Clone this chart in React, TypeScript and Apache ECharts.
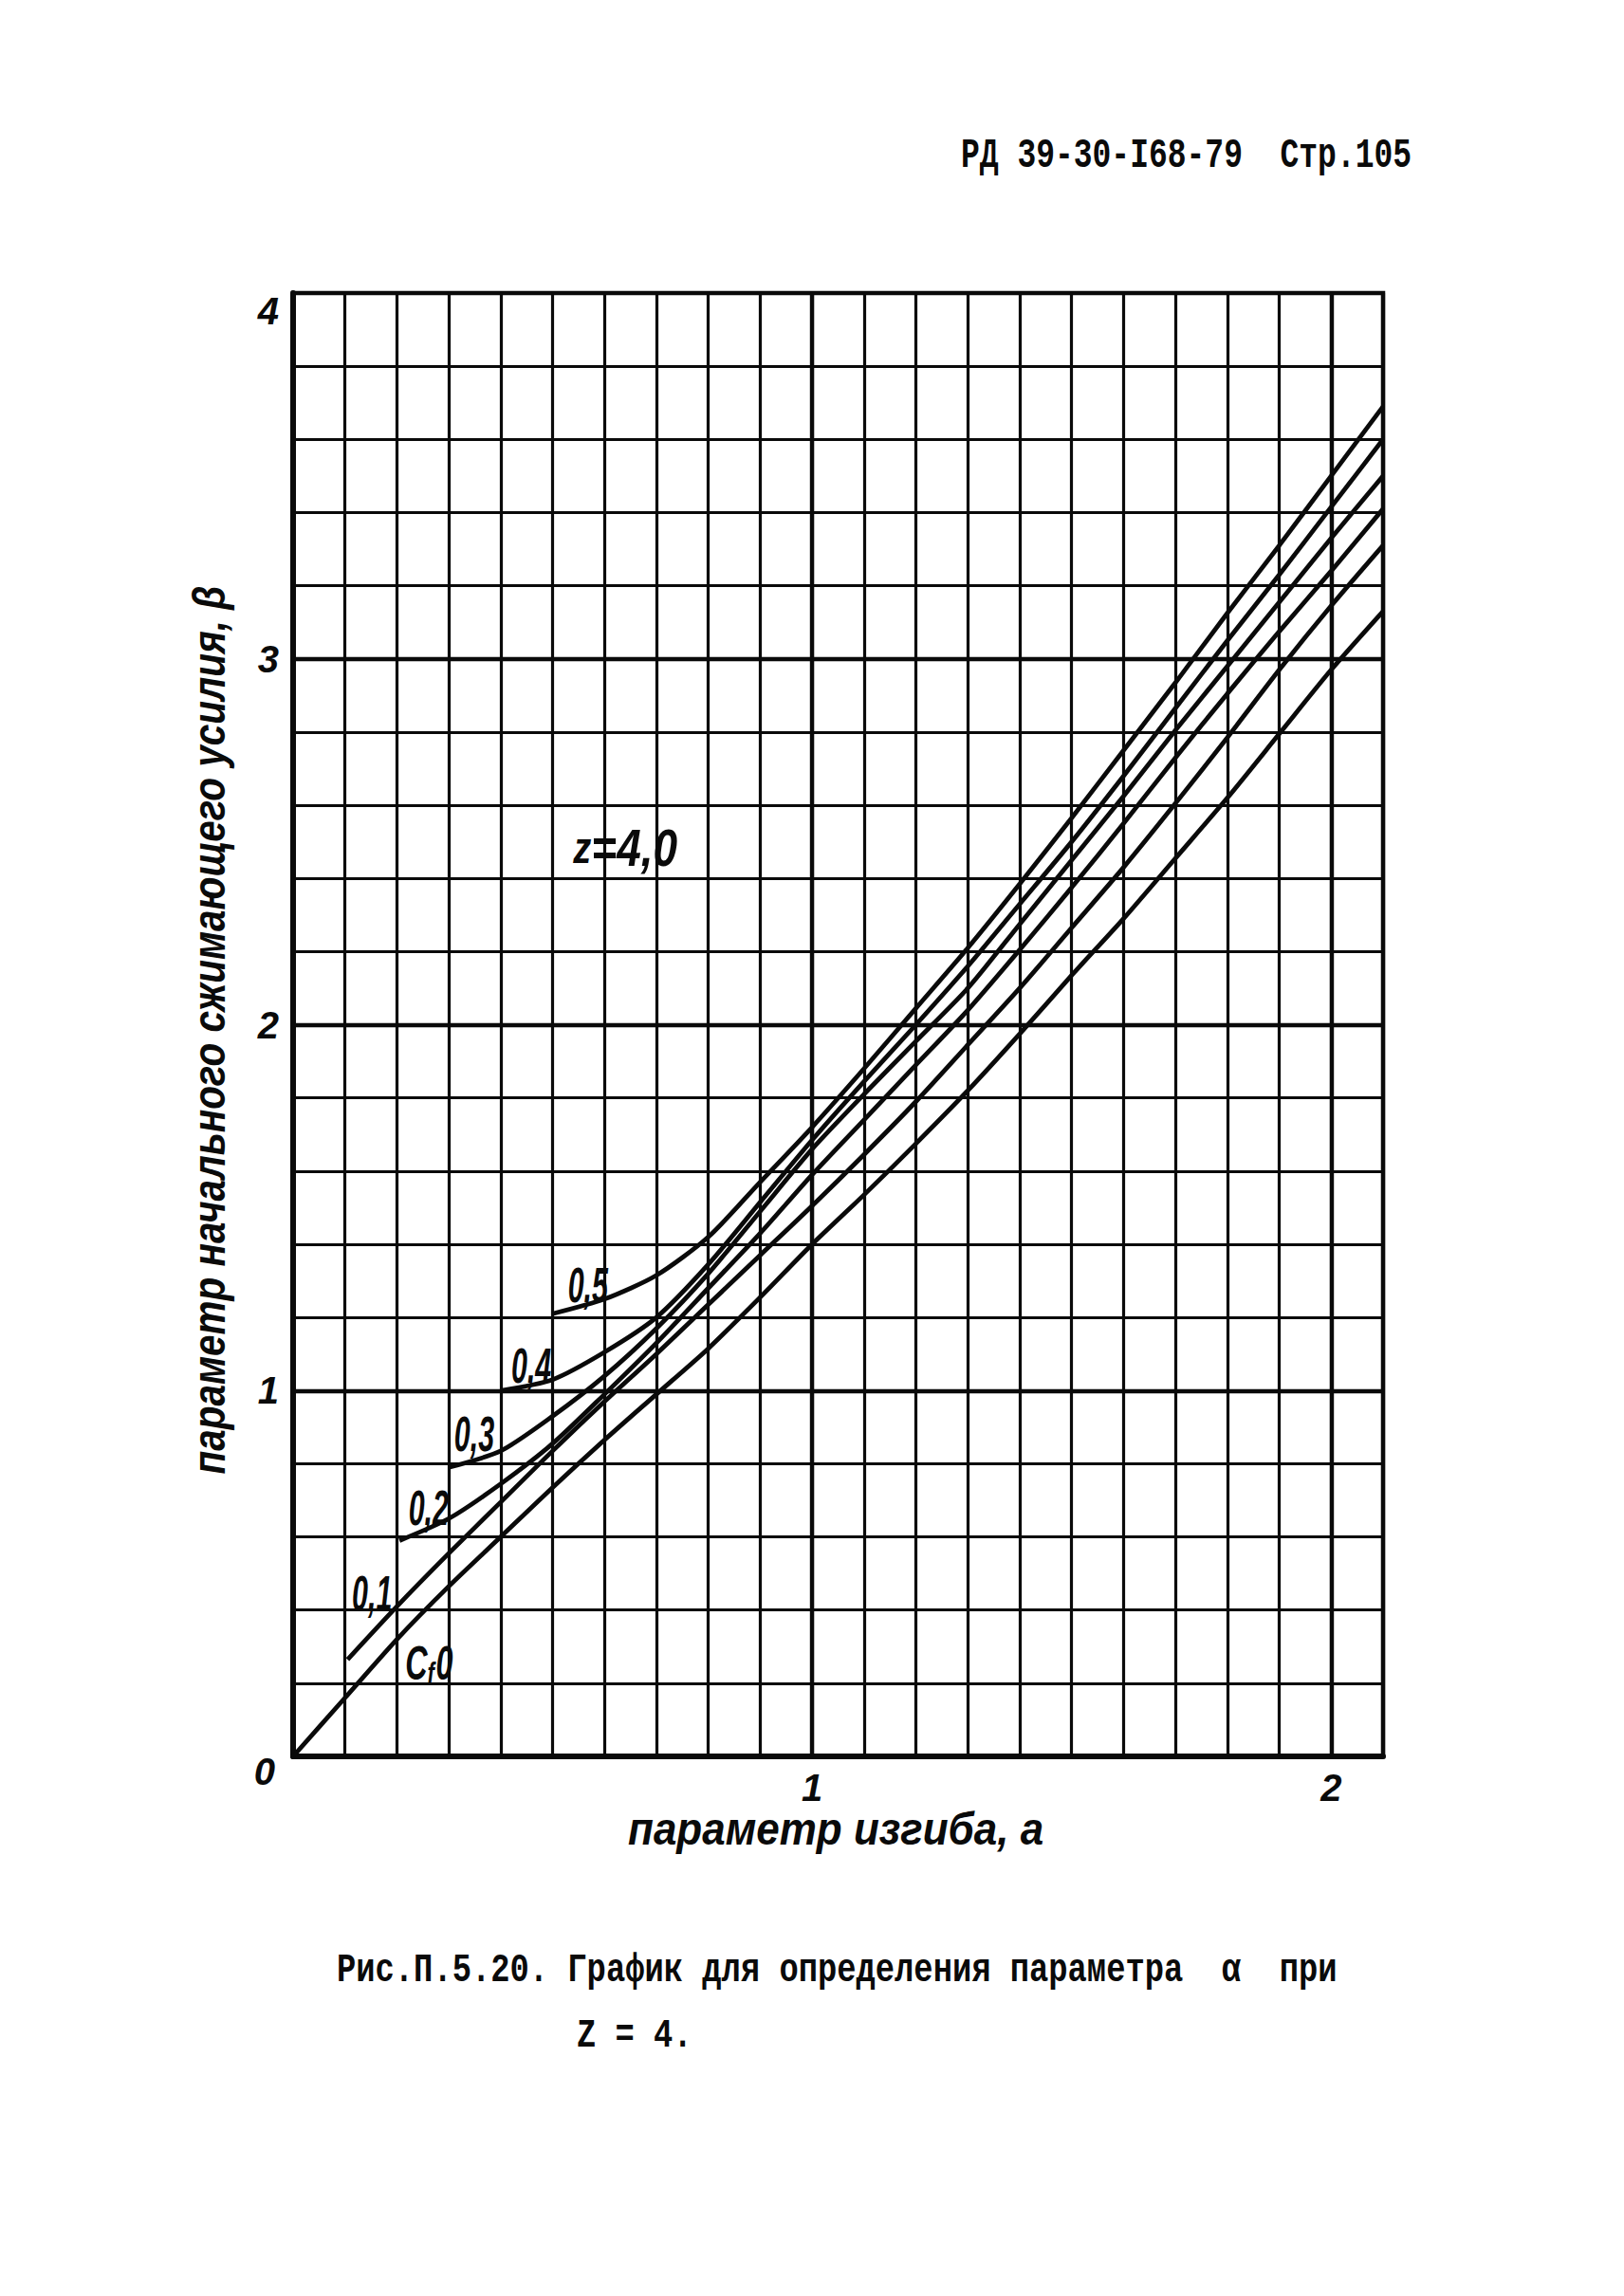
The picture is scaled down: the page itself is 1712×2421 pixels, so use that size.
import React, { useEffect, useRef } from "react";
import * as echarts from "echarts";

// ---- axis ranges / ticks ----
const X_MIN = 0;
const X_MAX = 2.1;
const X_STEP = 0.1;
const Y_MIN = 0;
const Y_MAX = 4;
const Y_STEP = 0.2;
const xTickLabels = [1, 2];
const yTickLabels = [0, 1, 2, 3, 4];
const majorX = [1, 2];
const majorY = [1, 2, 3];

// ---- curves (alpha, beta) for C_f = 0 ... 0.5 ----
const curveC00 = [
  [0, 0], [0.1, 0.16], [0.2, 0.32], [0.3, 0.465], [0.4, 0.6], [0.5, 0.735],
  [0.6, 0.865], [0.7, 0.99], [0.8, 1.115], [0.9, 1.255], [1.0, 1.4], [1.1, 1.535],
  [1.2, 1.675], [1.3, 1.82], [1.4, 1.975], [1.5, 2.135], [1.6, 2.29], [1.7, 2.455],
  [1.8, 2.62], [1.9, 2.795], [2.0, 2.97], [2.1, 3.13],
];
const curveC01 = [
  [0.105, 0.265], [0.2, 0.41], [0.3, 0.555], [0.4, 0.695], [0.5, 0.835], [0.6, 0.97],
  [0.7, 1.1], [0.8, 1.235], [0.9, 1.37], [1.0, 1.505], [1.1, 1.645], [1.2, 1.79],
  [1.3, 1.945], [1.4, 2.1], [1.5, 2.265], [1.6, 2.43], [1.7, 2.605], [1.8, 2.785],
  [1.9, 2.97], [2.0, 3.145], [2.1, 3.31],
];
const curveC02 = [
  [0.205, 0.59], [0.3, 0.65], [0.4, 0.745], [0.5, 0.855], [0.6, 0.99], [0.7, 1.13],
  [0.8, 1.28], [0.9, 1.43], [1.0, 1.59], [1.1, 1.74], [1.2, 1.89], [1.3, 2.04],
  [1.4, 2.205], [1.5, 2.375], [1.6, 2.55], [1.7, 2.73], [1.8, 2.905], [1.9, 3.075],
  [2.0, 3.24], [2.1, 3.41],
];
const curveC03 = [
  [0.3, 0.79], [0.4, 0.835], [0.5, 0.93], [0.6, 1.04], [0.7, 1.17], [0.8, 1.32],
  [0.9, 1.49], [1.0, 1.66], [1.1, 1.81], [1.2, 1.955], [1.3, 2.1], [1.4, 2.275],
  [1.5, 2.45], [1.6, 2.625], [1.7, 2.805], [1.8, 2.98], [1.9, 3.155], [2.0, 3.33],
  [2.1, 3.5],
];
const curveC04 = [
  [0.4, 1.0], [0.5, 1.03], [0.6, 1.105], [0.7, 1.2], [0.8, 1.345], [0.9, 1.515],
  [1.0, 1.685], [1.1, 1.845], [1.2, 2.0], [1.3, 2.16], [1.4, 2.33], [1.5, 2.5],
  [1.6, 2.68], [1.7, 2.865], [1.8, 3.05], [1.9, 3.23], [2.0, 3.415], [2.1, 3.6],
];
const curveC05 = [
  [0.5, 1.21], [0.6, 1.25], [0.7, 1.315], [0.8, 1.42], [0.9, 1.57], [1.0, 1.72],
  [1.1, 1.88], [1.2, 2.045], [1.3, 2.21], [1.4, 2.385], [1.5, 2.565], [1.6, 2.75],
  [1.7, 2.935], [1.8, 3.125], [1.9, 3.31], [2.0, 3.5], [2.1, 3.69],
];
const curves = [curveC00, curveC01, curveC02, curveC03, curveC04, curveC05];
const curveNames = ["0", "0,1", "0,2", "0,3", "0,4", "0,5"];

// ---- annotation anchors (data coordinates) ----
const curveLabelAnchors: { text: string; at: number[] }[] = [
  { text: "0,1", at: [0.152, 0.446] },
  { text: "0,2", at: [0.261, 0.679] },
  { text: "0,3", at: [0.349, 0.881] },
  { text: "0,4", at: [0.459, 1.068] },
  { text: "0,5", at: [0.568, 1.288] },
];
const cfZeroAnchor = [0.262, 0.255];
const zLabelAnchor = [0.64, 2.483];

// ---- texts ----
const headerText = "РД 39-30-I68-79  Стр.105";
const captionLine1 = "Рис.П.5.20. График для определения параметра  α  при";
const captionLine2 = "Z = 4.";
const xTitle = "параметр изгиба, a";
const yTitle = "параметр начального сжимающего усилия, β";

const HAND = '"Liberation Sans", Arial, sans-serif';
const TYPE = '"Liberation Mono", "DejaVu Sans Mono", monospace';
const INK = "#0a0a0a";

function isTick(v: number, list: number[]) {
  const r = Math.round(v);
  return Math.abs(v - r) < 1e-6 && list.includes(r);
}

function buildOption(): any {
  return {
    animation: false,
    backgroundColor: "#ffffff",
    grid: {
      left: 309,
      top: 309,
      width: 1149,
      height: 1543,
      show: true,
      borderColor: INK,
      borderWidth: 4.5,
      backgroundColor: "transparent",
    },
    xAxis: {
      type: "value",
      min: X_MIN,
      max: X_MAX,
      interval: X_STEP,
      axisLine: { show: true, onZero: false, lineStyle: { color: INK, width: 6 } },
      axisTick: { show: false },
      splitLine: { show: true, lineStyle: { color: INK, width: 3.2 } },
      axisLabel: {
        showMinLabel: true,
        showMaxLabel: true,
        margin: 13,
        color: INK,
        fontFamily: HAND,
        fontSize: 40,
        fontStyle: "italic",
        fontWeight: "bold",
        formatter: (v: number) => (isTick(v, xTickLabels) ? String(Math.round(v)) : ""),
      },
    },
    yAxis: {
      type: "value",
      min: Y_MIN,
      max: Y_MAX,
      interval: Y_STEP,
      axisLine: { show: true, onZero: false, lineStyle: { color: INK, width: 6 } },
      axisTick: { show: false },
      splitLine: { show: true, lineStyle: { color: INK, width: 3.2 } },
      axisLabel: {
        showMinLabel: true,
        showMaxLabel: true,
        margin: 15,
        color: INK,
        fontFamily: HAND,
        fontSize: 40,
        fontStyle: "italic",
        fontWeight: "bold",
        formatter: (v: number) => {
          if (!isTick(v, yTickLabels)) return "";
          const n = Math.round(v);
          if (n === 4) return "{top|4}";
          if (n === 0) return "{low|0}";
          return String(n);
        },
        rich: {
          top: {
            fontFamily: HAND,
            fontSize: 40,
            fontStyle: "italic",
            fontWeight: "bold",
            color: INK,
            padding: [38, 0, 0, 0],
          },
          low: {
            fontFamily: HAND,
            fontSize: 40,
            fontStyle: "italic",
            fontWeight: "bold",
            color: INK,
            padding: [32, 4, 0, 0],
          },
        },
      },
    },
    series: curves.map((data, i) => ({
      type: "line",
      name: curveNames[i],
      data,
      symbol: "none",
      showSymbol: false,
      smooth: 0.25,
      silent: true,
      lineStyle: { color: INK, width: 4.8 },
      z: 5,
      markLine:
        i === 0
          ? {
              silent: true,
              symbol: "none",
              label: { show: false },
              lineStyle: { color: INK, width: 4.4, type: "solid" },
              data: [
                ...majorX.map((v) => ({ xAxis: v })),
                ...majorY.map((v) => ({ yAxis: v })),
              ],
              z: 3,
            }
          : undefined,
    })),
  };
}

function buildGraphics(toPx: (p: number[]) => number[]): any[] {
  const handLabel = (text: string, p: number[], size: number, sx = 0.8, sy = 1.35) => ({
    type: "text",
    x: p[0],
    y: p[1],
    scaleX: sx,
    scaleY: sy,
    silent: true,
    z: 10,
    style: {
      text,
      fill: INK,
      fontFamily: HAND,
      fontSize: size,
      fontStyle: "italic",
      fontWeight: "bold",
      align: "center",
      verticalAlign: "middle",
    },
  });

  const els: any[] = [];
  // header
  els.push({
    type: "text",
    x: 1013,
    y: 164,
    scaleY: 1.35,
    silent: true,
    style: {
      text: headerText,
      fill: INK,
      fontFamily: TYPE,
      fontSize: 33,
      fontWeight: "bold",
      align: "left",
      verticalAlign: "middle",
    },
  });
  // caption
  els.push({
    type: "text",
    x: 355,
    y: 2077,
    scaleY: 1.25,
    silent: true,
    style: {
      text: captionLine1,
      fill: INK,
      fontFamily: TYPE,
      fontSize: 33.8,
      fontWeight: "bold",
      align: "left",
      verticalAlign: "middle",
    },
  });
  els.push({
    type: "text",
    x: 608,
    y: 2146,
    scaleY: 1.25,
    silent: true,
    style: {
      text: captionLine2,
      fill: INK,
      fontFamily: TYPE,
      fontSize: 33.8,
      fontWeight: "bold",
      align: "left",
      verticalAlign: "middle",
    },
  });
  // axis titles
  els.push({
    type: "text",
    x: 662,
    y: 1928,
    scaleY: 1.1,
    silent: true,
    style: {
      text: xTitle,
      fill: INK,
      fontFamily: HAND,
      fontSize: 44,
      fontStyle: "italic",
      fontWeight: "bold",
      align: "left",
      verticalAlign: "middle",
    },
  });
  els.push({
    type: "text",
    x: 220,
    y: 1086,
    rotation: Math.PI / 2,
    scaleX: 0.92,
    scaleY: 1.1,
    silent: true,
    style: {
      text: yTitle,
      fill: INK,
      fontFamily: HAND,
      fontSize: 44,
      fontStyle: "italic",
      fontWeight: "bold",
      align: "center",
      verticalAlign: "middle",
    },
  });
  // curve labels
  curveLabelAnchors.forEach((c) => els.push(handLabel(c.text, toPx(c.at), 38)));
  const cf = toPx(cfZeroAnchor);
  els.push({
    type: "text",
    x: cf[0],
    y: cf[1],
    scaleX: 0.85,
    scaleY: 1.3,
    silent: true,
    z: 10,
    style: {
      text: "{a|C}{b|f}{a|0}",
      fill: INK,
      align: "center",
      verticalAlign: "middle",
      rich: {
        a: { fontFamily: HAND, fontSize: 38, fontStyle: "italic", fontWeight: "bold", fill: INK },
        b: {
          fontFamily: HAND,
          fontSize: 26,
          fontStyle: "italic",
          fontWeight: "bold",
          fill: INK,
          padding: [16, 2, 0, 0],
        },
      },
    },
  });
  const zp = toPx(zLabelAnchor);
  els.push({
    type: "text",
    x: zp[0],
    y: zp[1],
    scaleY: 1.2,
    silent: true,
    z: 10,
    style: {
      text: "{z|z}{n|=4,0}",
      fill: INK,
      align: "center",
      verticalAlign: "middle",
      rich: {
        z: { fontFamily: HAND, fontSize: 38, fontStyle: "italic", fontWeight: "bold", fill: INK },
        n: { fontFamily: HAND, fontSize: 46, fontStyle: "italic", fontWeight: "bold", fill: INK },
      },
    },
  });
  return els;
}

export default function App() {
  const ref = useRef<HTMLDivElement>(null);
  useEffect(() => {
    const el = ref.current;
    if (!el) return;
    const chart = echarts.init(el, undefined, { renderer: "svg" });
    chart.setOption(buildOption());
    const toPx = (p: number[]) => chart.convertToPixel({ gridIndex: 0 }, p) as number[];
    chart.setOption({ graphic: buildGraphics(toPx) });
    return () => chart.dispose();
  }, []);
  return (
    <div
      ref={ref}
      style={{ position: "absolute", left: 0, top: 0, width: 1712, height: 2421, background: "#ffffff" }}
    />
  );
}
